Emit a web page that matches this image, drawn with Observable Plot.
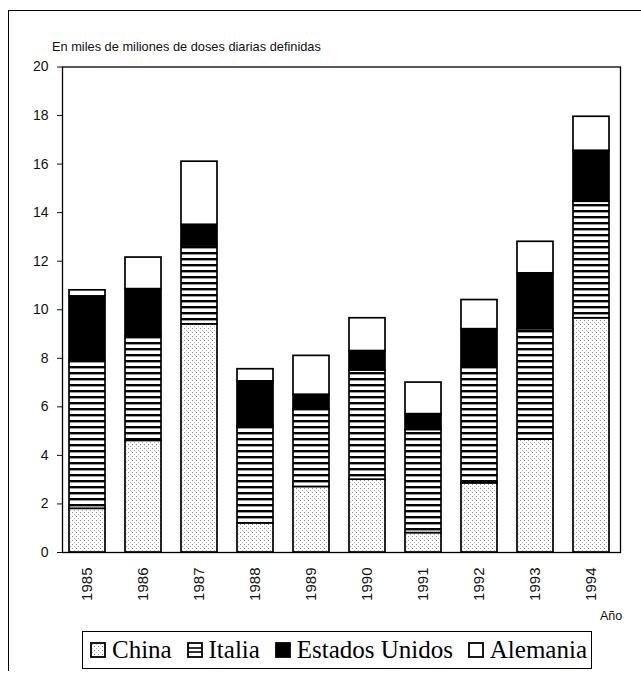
<!DOCTYPE html>
<html>
<head>
<meta charset="utf-8">
<script src="https://cdn.jsdelivr.net/npm/d3@7"></script>
<script src="https://cdn.jsdelivr.net/npm/@observablehq/plot@0.6"></script>
<style>
  html, body { margin: 0; padding: 0; background: #fff; }
  #wrap { position: relative; width: 641px; height: 683px; overflow: hidden; background: #fff; }
  #border { position: absolute; left: 8px; top: 10px; width: 640px; height: 660px; border-top: 1.5px solid #000; border-left: 1.5px solid #000; }
  #chart { position: absolute; left: 0; top: 0; }
  #title { position: absolute; left: 52px; top: 39px; font: 12.8px "Liberation Sans", Arial, sans-serif; color: #111; white-space: nowrap; }
  #xlab { position: absolute; left: 600px; top: 609px; font: 12.5px "Liberation Sans", Arial, sans-serif; color: #111; }
  #legend { position: absolute; left: 82px; top: 631px; width: 510px; height: 38px; border: 1.2px solid #000; box-sizing: border-box;
            display: flex; align-items: center; justify-content: space-between; padding: 0 4px 0 7px; font: 25px "Liberation Serif", "Times New Roman", serif; color: #000; white-space: nowrap; }
  #legend .item { display: inline-flex; align-items: center; }
  #legend svg { margin-right: 6px; }
</style>
</head>
<body>
<div id="wrap">
  <div id="border"></div>
  <div id="title">En miles de miliones de doses diarias definidas</div>
  <div id="chart"></div>
  <div id="xlab">Año</div>
  <div id="legend"></div>
</div>
<script>
// ---- data ----
const years = ["1985","1986","1987","1988","1989","1990","1991","1992","1993","1994"];
const seriesNames = ["China","Italia","Estados Unidos","Alemania"];
const china    = [1.8, 4.6, 9.4, 1.2, 2.7, 3.0, 0.8, 2.85, 4.65, 9.65];
const italia   = [6.1, 4.3, 3.25, 4.0, 3.2, 4.5, 4.25, 4.85, 4.55, 4.8];
const eeuu     = [2.65, 1.95, 0.85, 1.85, 0.6, 0.8, 0.65, 1.5, 2.3, 2.1];
const alemania = [0.25, 1.3, 2.6, 0.5, 1.6, 1.35, 1.3, 1.2, 1.3, 1.4];
const yTicks   = [0, 2, 4, 6, 8, 10, 12, 14, 16, 18, 20];

const fills = ["url(#pat-dots)", "url(#pat-stripes)", "#000", "#fff"];
const valuesBySeries = [china, italia, eeuu, alemania];

const data = [];
years.forEach((yr, i) => {
  seriesNames.forEach((s, j) => data.push({year: yr, series: s, value: valuesBySeries[j][i]}));
});

const chart = Plot.plot({
  width: 641,
  height: 625,
  marginLeft: 62,
  marginRight: 21,
  marginTop: 66.5,
  marginBottom: 73,
  style: {fontFamily: "'Liberation Sans', Arial, sans-serif", fontSize: "14px", background: "transparent", color: "#111"},
  x: {type: "band", domain: years, paddingInner: 0.36, paddingOuter: 0.145, align: 0.37,
      label: null, tickSize: 0, tickPadding: 15, tickRotate: -90, tickFormat: d => String(d)},
  y: {domain: [0, 20], ticks: yTicks, label: null, tickSize: 5, tickPadding: 9},
  color: {domain: seriesNames, range: fills},
  marks: [
    Plot.barY(data, {x: "year", y: "value", fill: "series", stroke: "#000", strokeWidth: 1.7}),
    Plot.frame({stroke: "#000", strokeWidth: 1.3})
  ]
});

// patterns
const svg = d3.select(chart);
const defs = svg.insert("defs", ":first-child");
const dots = defs.append("pattern").attr("id", "pat-dots").attr("patternUnits", "userSpaceOnUse")
  .attr("width", 4).attr("height", 4);
dots.append("rect").attr("width", 4).attr("height", 4).attr("fill", "#fff");
dots.append("rect").attr("x", 0).attr("y", 0).attr("width", 1).attr("height", 1).attr("fill", "#8a8a8a");
dots.append("rect").attr("x", 2).attr("y", 2).attr("width", 1).attr("height", 1).attr("fill", "#b8b8b8");
const stripes = defs.append("pattern").attr("id", "pat-stripes").attr("patternUnits", "userSpaceOnUse")
  .attr("width", 8).attr("height", 6);
stripes.append("rect").attr("width", 8).attr("height", 6).attr("fill", "#fff");
stripes.append("rect").attr("y", 0).attr("width", 8).attr("height", 2.4).attr("fill", "#000");

svg.selectAll('[aria-label="x-axis tick label"] text').style("font-size", "15px");

document.getElementById("chart").appendChild(chart);

// legend
const legend = d3.select("#legend");
seriesNames.forEach((s, j) => {
  const item = legend.append("span").attr("class", "item");
  const sw = item.append("svg").attr("width", 16).attr("height", 16);
  sw.append("rect").attr("x", 1).attr("y", 1).attr("width", 14).attr("height", 14)
    .attr("fill", j === 1 ? "#fff" : fills[j]).attr("stroke", "#000").attr("stroke-width", 1.8);
  if (j === 1) {
    sw.append("line").attr("x1", 1).attr("x2", 15).attr("y1", 6).attr("y2", 6).attr("stroke", "#000").attr("stroke-width", 1.6);
    sw.append("line").attr("x1", 1).attr("x2", 15).attr("y1", 10).attr("y2", 10).attr("stroke", "#000").attr("stroke-width", 1.6);
  }
  item.append("span").text(s);
});
</script>
</body>
</html>
